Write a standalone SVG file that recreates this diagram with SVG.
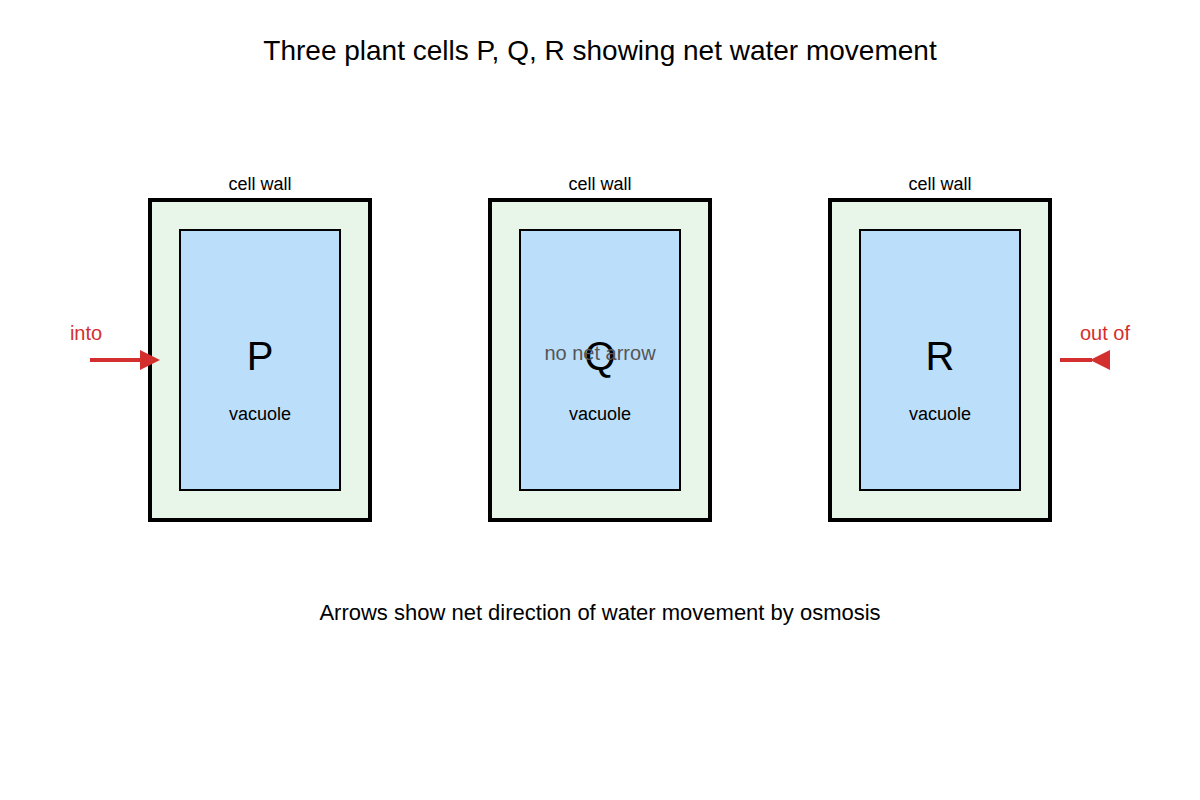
<svg xmlns="http://www.w3.org/2000/svg" width="1200" height="800" viewBox="0 0 1200 800">
<style>
text{font-family:"Liberation Sans",Arial,sans-serif;text-anchor:middle}
.wall{fill:#e8f5e9;stroke:#000;stroke-width:4}
.vac{fill:#bbdefb;stroke:#000;stroke-width:2}
.lbl{font-size:18px;fill:#000}
.big{font-size:40px;fill:#000}
.red{font-size:20px;fill:#d32f2f}
.arr{stroke:#d32f2f;stroke-width:4;fill:none}
</style>
<rect width="1200" height="800" fill="#fff"/>
<text x="600" y="60" style="font-size:28px">Three plant cells P, Q, R showing net water movement</text>
<g id="cellP">
<rect class="wall" x="150" y="200" width="220" height="320"/>
<rect class="vac" x="180" y="230" width="160" height="260"/>
<text class="lbl" x="260" y="190">cell wall</text>
<text class="big" x="260" y="370">P</text>
<text class="lbl" x="260" y="420">vacuole</text>
</g>
<g id="cellQ">
<rect class="wall" x="490" y="200" width="220" height="320"/>
<rect class="vac" x="520" y="230" width="160" height="260"/>
<text class="lbl" x="600" y="190">cell wall</text>
<text class="big" x="600" y="370">Q</text>
<text class="lbl" x="600" y="420">vacuole</text>
<text x="600" y="360" style="font-size:20px;fill:#555">no net arrow</text>
</g>
<g id="cellR">
<rect class="wall" x="830" y="200" width="220" height="320"/>
<rect class="vac" x="860" y="230" width="160" height="260"/>
<text class="lbl" x="940" y="190">cell wall</text>
<text class="big" x="940" y="370">R</text>
<text class="lbl" x="940" y="420">vacuole</text>
</g>
<g id="connectors">
<line class="arr" x1="90" y1="360" x2="142" y2="360"/>
<polygon points="140,350 160,360 140,370" fill="#d32f2f"/>
<line class="arr" x1="1060" y1="360" x2="1092" y2="360"/>
<polygon points="1110,350 1090,360 1110,370" fill="#d32f2f"/>
<text class="red" x="86" y="340">into</text>
<text class="red" x="1105" y="340">out of</text>
</g>
<text x="600" y="620" style="font-size:22px">Arrows show net direction of water movement by osmosis</text>
</svg>
